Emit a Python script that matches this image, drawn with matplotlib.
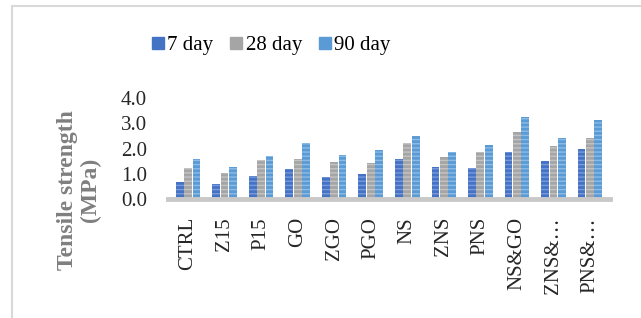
import numpy as np
import matplotlib
matplotlib.use("Agg")
import matplotlib.pyplot as plt
from matplotlib.patches import Rectangle
from matplotlib.lines import Line2D

# data
categories = ["CTRL", "Z15", "P15", "GO", "ZGO", "PGO", "NS", "ZNS", "PNS",
              "NS&GO", "ZNS&…", "PNS&…"]
day7 = [0.66, 0.59, 0.91, 1.18, 0.86, 0.99, 1.58, 1.27, 1.23, 1.87, 1.50, 1.97]
day28 = [1.24, 1.04, 1.54, 1.58, 1.45, 1.43, 2.20, 1.66, 1.87, 2.65, 2.11, 2.41]
day90 = [1.57, 1.27, 1.70, 2.22, 1.74, 1.93, 2.48, 1.86, 2.12, 3.23, 2.41, 3.13]
series_names = ["7 day", "28 day", "90 day"]
yticks = [0, 1, 2, 3, 4]

colors = ["#4472C4", "#A5A5A5", "#5B9BD5"]
stripes = ["#7A9BDA", "#C4C4C4", "#8DBBE6"]

plt.rcParams['font.family'] = ['Liberation Serif', 'DejaVu Serif']
plt.rcParams['hatch.linewidth'] = 1.0

fig = plt.figure(figsize=(6.41, 3.18), dpi=100)

# outer light frame
fig.patches.append(Rectangle((12/641, -0.1), 1.2, 1 - 6/318 + 0.1,
                             transform=fig.transFigure, fill=False,
                             edgecolor="#D9D9D9", linewidth=1.5))

ax = fig.add_axes([168/641, 119/318, 442/641, 101/318])

x = np.arange(len(categories))
w = 0.21
for i, vals in enumerate([day7, day28, day90]):
    ax.bar(x + (i - 1) * 0.23, vals, w, color=colors[i], edgecolor=stripes[i],
           linewidth=0, hatch="----", label=series_names[i])

ax.set_xlim(-0.55, len(categories) - 0.45)
ax.set_ylim(0, 4)
ax.set_yticks(yticks)
ax.set_yticklabels(["%.1f" % v for v in yticks])
ax.set_xticks(x)
ax.set_xticklabels(categories, rotation=90)
ax.tick_params(axis="y", length=0, pad=15, labelsize=15, labelcolor="#262626")
ax.tick_params(axis="x", length=0, pad=13, labelsize=15, labelcolor="#262626")
for s in ["top", "right", "left"]:
    ax.spines[s].set_visible(False)
ax.spines["bottom"].set_color("#C8C8C8")
ax.spines["bottom"].set_linewidth(3.5)

fig.text(79/641, 1 - 190/318, "Tensile strength\n(MPa)", rotation=90,
         ha="center", va="center", fontsize=17, fontweight="bold",
         color="#7F7F7F", linespacing=1.1)

handles = [Line2D([], [], marker="s", linestyle="none", markersize=8,
                  markerfacecolor=c, markeredgecolor=c) for c in colors]
fig.legend(handles, series_names, loc="center", bbox_to_anchor=(270/641, 1 - 45/318),
           ncol=3, frameon=False, fontsize=15, handletextpad=0.05,
           columnspacing=0.7, handlelength=0.8)

fig.savefig("out.png", dpi=100)
